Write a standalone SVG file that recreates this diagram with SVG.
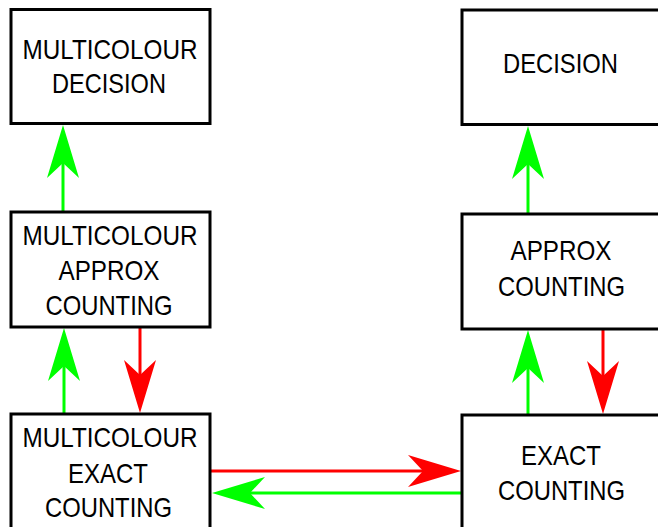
<svg xmlns="http://www.w3.org/2000/svg" width="658" height="527" viewBox="0 0 658 527">
<style>
.box{fill:#fff;stroke:#000;stroke-width:3}
.t{font-family:"Liberation Sans",Arial,sans-serif;font-size:28px;fill:#000;text-anchor:middle}
.g{stroke:#00ff00;stroke-width:3;fill:none}
.r{stroke:#ff0000;stroke-width:3;fill:none}
</style>
<defs>
<marker id="ag" viewBox="-54 -17 55 34" refX="-38" refY="0" markerWidth="55" markerHeight="34" markerUnits="userSpaceOnUse" orient="auto">
<path d="M0,0 L-53,-16 L-38,0 L-53,16 Z" fill="#00ff00"/>
</marker>
<marker id="ar" viewBox="-54 -17 55 34" refX="-38" refY="0" markerWidth="55" markerHeight="34" markerUnits="userSpaceOnUse" orient="auto">
<path d="M0,0 L-53,-16 L-38,0 L-53,16 Z" fill="#ff0000"/>
</marker>
</defs>
<rect width="658" height="527" fill="#fff"/>
<g id="connectors">
<line class="g" x1="63" y1="212" x2="63" y2="163" marker-end="url(#ag)"/>
<line class="g" x1="64" y1="414" x2="64" y2="366" marker-end="url(#ag)"/>
<line class="r" x1="140" y1="328" x2="140" y2="375" marker-end="url(#ar)"/>
<line class="g" x1="528" y1="214" x2="528" y2="164" marker-end="url(#ag)"/>
<line class="g" x1="528" y1="415" x2="528" y2="368" marker-end="url(#ag)"/>
<line class="r" x1="603" y1="330" x2="603" y2="376" marker-end="url(#ar)"/>
<line class="r" x1="211" y1="471" x2="423" y2="471" marker-end="url(#ar)"/>
<line class="g" x1="461" y1="493" x2="250" y2="493" marker-end="url(#ag)"/>
</g>
<g id="multicolour-decision">
<rect class="box" x="11" y="9.5" width="199" height="114"/>
<text class="t" x="110" y="58.5" textLength="175" lengthAdjust="spacingAndGlyphs">MULTICOLOUR</text>
<text class="t" x="109" y="93" textLength="114" lengthAdjust="spacingAndGlyphs">DECISION</text>
</g>
<g id="multicolour-approx-counting">
<rect class="box" x="11" y="212" width="199" height="115"/>
<text class="t" x="110" y="245" textLength="175" lengthAdjust="spacingAndGlyphs">MULTICOLOUR</text>
<text class="t" x="109" y="280" textLength="101" lengthAdjust="spacingAndGlyphs">APPROX</text>
<text class="t" x="109" y="315" textLength="127" lengthAdjust="spacingAndGlyphs">COUNTING</text>
</g>
<g id="multicolour-exact-counting">
<rect class="box" x="11" y="414" width="199" height="115"/>
<text class="t" x="110" y="447" textLength="175" lengthAdjust="spacingAndGlyphs">MULTICOLOUR</text>
<text class="t" x="108" y="483" textLength="80" lengthAdjust="spacingAndGlyphs">EXACT</text>
<text class="t" x="108.5" y="517" textLength="127" lengthAdjust="spacingAndGlyphs">COUNTING</text>
</g>
<g id="decision">
<rect class="box" x="462" y="10" width="200" height="114.5"/>
<text class="t" x="560.5" y="73" textLength="115" lengthAdjust="spacingAndGlyphs">DECISION</text>
</g>
<g id="approx-counting">
<rect class="box" x="462" y="214" width="200" height="115"/>
<text class="t" x="561" y="260" textLength="101" lengthAdjust="spacingAndGlyphs">APPROX</text>
<text class="t" x="561.5" y="296" textLength="127" lengthAdjust="spacingAndGlyphs">COUNTING</text>
</g>
<g id="exact-counting">
<rect class="box" x="462" y="415" width="200" height="115"/>
<text class="t" x="561" y="465" textLength="80" lengthAdjust="spacingAndGlyphs">EXACT</text>
<text class="t" x="561.5" y="500" textLength="127" lengthAdjust="spacingAndGlyphs">COUNTING</text>
</g>
</svg>
